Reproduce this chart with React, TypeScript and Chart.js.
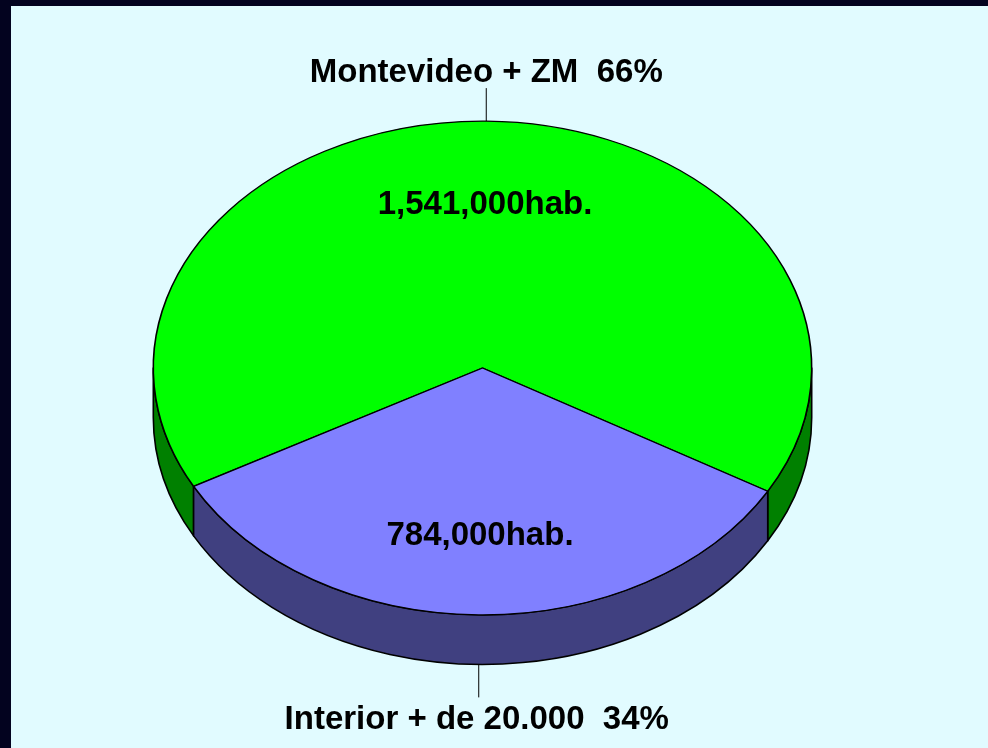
import React, { useEffect, useRef } from "react";
import { Chart, registerables } from "chart.js";

Chart.register(...registerables);

const categories = ["Montevideo + ZM", "Interior + de 20.000"];
const population = [1541000, 784000];
const percentLabels = ["66%", "34%"];
const innerLabels = ["1,541,000hab.", "784,000hab."];
const topColors = ["#00FF00", "#8080FF"];
const sideColors = ["#008000", "#404080"];

const TILT = 0.75;
const DEPTH = 49.5;

const pie3d = {
  id: "pie3d",
  beforeDatasetsDraw(chart: any) {
    const meta = chart.getDatasetMeta(0);
    const arcs = meta.data;
    if (!arcs.length) return;
    const ctx = chart.ctx;
    const cx = arcs[0].x, cy = arcs[0].y, r = arcs[0].outerRadius;
    const ry = r * TILT;
    const TAU = Math.PI * 2;
    ctx.save();
    arcs.forEach((arc: any, i: number) => {
      const s = arc.startAngle, e = arc.endAngle;
      for (let k = -1; k <= 2; k++) {
        const a = Math.max(s, k * TAU);
        const b = Math.min(e, k * TAU + Math.PI);
        if (b <= a) continue;
        ctx.beginPath();
        ctx.ellipse(cx, cy, r, ry, 0, a, b, false);
        ctx.lineTo(cx + r * Math.cos(b), cy + ry * Math.sin(b) + DEPTH);
        ctx.ellipse(cx, cy + DEPTH, r, ry, 0, b, a, true);
        ctx.closePath();
        ctx.fillStyle = sideColors[i];
        ctx.fill();
        ctx.lineWidth = 1.6;
        ctx.strokeStyle = "#000";
        ctx.lineJoin = "round";
        ctx.stroke();
      }
    });
    ctx.restore();
    ctx.save();
    ctx.translate(cx, cy);
    ctx.scale(1, TILT);
    ctx.translate(-cx, -cy);
  },
  afterDatasetsDraw(chart: any) {
    const ctx = chart.ctx;
    ctx.restore();
    const meta = chart.getDatasetMeta(0);
    const arcs = meta.data;
    if (!arcs.length) return;
    const cx = arcs[0].x, cy = arcs[0].y, r = arcs[0].outerRadius;
    const ry = r * TILT;
    ctx.save();
    ctx.fillStyle = "#000";
    ctx.strokeStyle = "#000";
    ctx.lineWidth = 1;
    ctx.textAlign = "center";
    arcs.forEach((arc: any, i: number) => {
      const m = (arc.startAngle + arc.endAngle) / 2;
      const c = Math.cos(m), sn = Math.sin(m);
      // inner value label
      ctx.font = "bold 33px 'Liberation Sans', Arial, sans-serif";
      ctx.textBaseline = "middle";
      ctx.fillText(innerLabels[i], cx + 0.67 * r * c, cy + 0.67 * ry * sn + 2);
      // outer label with leader line
      const front = sn > 0;
      const px = cx + r * c;
      const py = cy + ry * sn + (front ? DEPTH : 0);
      const ly = front ? py + 33 : py - 33;
      ctx.beginPath();
      ctx.moveTo(px, py);
      ctx.lineTo(px, ly);
      ctx.stroke();
      ctx.font = "bold 33px 'Liberation Sans', Arial, sans-serif";
      ctx.textBaseline = "alphabetic";
      const txt = categories[i] + "  " + percentLabels[i];
      ctx.fillText(txt, front ? px - 2 : px, front ? ly + 32 : ly - 6);
    });
    ctx.restore();
  },
};

export default function App() {
  const ref = useRef<HTMLCanvasElement>(null);
  useEffect(() => {
    if (!ref.current) return;
    const chart = new Chart(ref.current, {
      type: "pie",
      data: {
        labels: categories,
        datasets: [
          {
            data: population,
            backgroundColor: topColors,
            borderColor: "#000",
            borderWidth: 1.6,
            hoverOffset: 0,
          },
        ],
      },
      options: {
        responsive: false,
        animation: false,
        rotation: 241.35,
        layout: { padding: { left: 152, right: 175, top: 38, bottom: 50 } },
        plugins: {
          legend: { display: false },
          tooltip: { enabled: false },
        },
      },
      plugins: [pie3d],
    });
    return () => chart.destroy();
  }, []);
  return (
    <div style={{ position: "fixed", left: 0, top: 0, width: 988, height: 748, background: "#03031f", overflow: "hidden" }}>
      <div style={{ position: "absolute", left: 11, top: 6, right: 0, bottom: 0, background: "#E1FBFF" }} />
      <canvas ref={ref} width={988} height={748} style={{ position: "absolute", left: 0, top: 0, width: 988, height: 748 }} />
    </div>
  );
}
